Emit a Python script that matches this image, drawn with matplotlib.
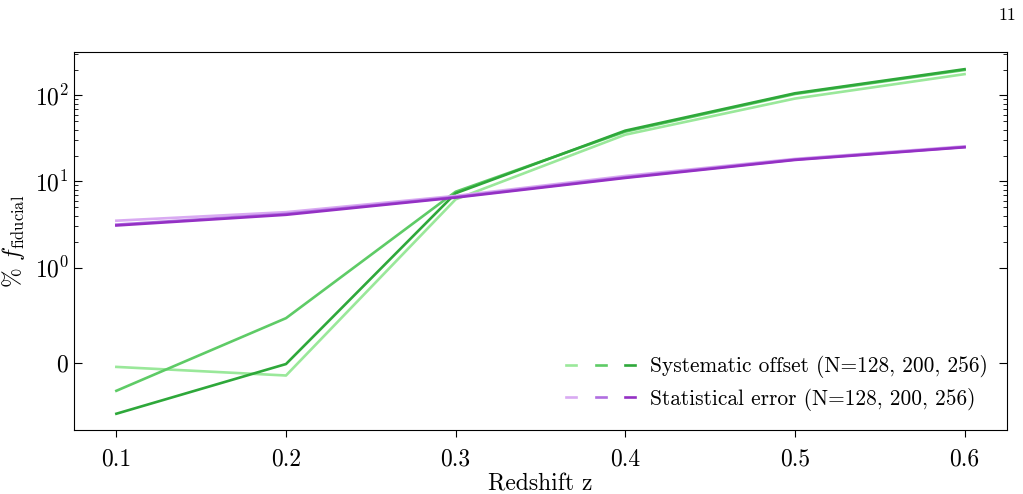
import numpy as np
import matplotlib
matplotlib.use("Agg")
import matplotlib.pyplot as plt
from matplotlib.lines import Line2D
from matplotlib.legend_handler import HandlerTuple

plt.rcParams['font.family'] = 'serif'
plt.rcParams['font.serif'] = ['cmr10', 'DejaVu Serif']
plt.rcParams['mathtext.fontset'] = 'cm'
plt.rcParams['axes.formatter.use_mathtext'] = True
plt.rcParams['axes.unicode_minus'] = False

redshift = [0.1, 0.2, 0.3, 0.4, 0.5, 0.6]
n_values = [128, 200, 256]

# Systematic offset (% of fiducial) for N=128, 200, 256
sys_offset = {
    128: [-0.04, -0.13, 6.2, 35.0, 92.0, 177.0],
    200: [-0.29, 0.47, 7.6, 38.0, 104.0, 198.0],
    256: [-0.53, -0.01, 7.3, 39.0, 106.0, 202.0],
}
# Statistical error (% of fiducial) for N=128, 200, 256
stat_err = {
    128: [3.5, 4.4, 6.8, 11.6, 18.3, 25.6],
    200: [3.15, 4.2, 6.6, 11.2, 18.0, 25.2],
    256: [3.08, 4.1, 6.5, 11.0, 17.8, 25.0],
}

green_colors = ['#9ae89a', '#5ecb66', '#2ea83a']
purple_colors = ['#d9aaf2', '#b06ee0', '#9430c4']

fig = plt.figure(figsize=(10.23, 4.94), dpi=100)
ax = fig.add_axes([0.0723, 0.1296, 0.9120, 0.7651])

lw = 1.9
for n, c in zip(n_values, green_colors):
    ax.plot(redshift, sys_offset[n], color=c, lw=lw)
for n, c in zip(n_values, purple_colors):
    ax.plot(redshift, stat_err[n], color=c, lw=lw)

ax.set_yscale('symlog', linthresh=1, subs=list(range(2, 10)))
ax.set_ylim(-0.7, 320)
ax.set_yticks([0, 1, 10, 100])

ax.tick_params(axis='y', which='both', direction='in', right=True, left=True, labelsize=17)
ax.tick_params(axis='y', which='major', length=6)
ax.tick_params(axis='y', which='minor', length=3)
ax.tick_params(axis='x', which='both', direction='out', length=5, labelsize=17, pad=8)
ax.set_xticks(redshift)
ax.set_xticklabels(['0.1', '0.2', '0.3', '0.4', '0.5', '0.6'])

ax.set_xlabel('Redshift z', fontsize=17, labelpad=2)
ax.set_ylabel(r'% $f_{\rm fiducial}$', fontsize=17, labelpad=6)

g_handles = tuple(Line2D([], [], color=c, lw=lw) for c in green_colors)
p_handles = tuple(Line2D([], [], color=c, lw=lw) for c in purple_colors)
ax.legend([g_handles, p_handles],
          ['Systematic offset (N=128, 200, 256)', 'Statistical error (N=128, 200, 256)'],
          handler_map={tuple: HandlerTuple(ndivide=None, pad=0.9)},
          loc='lower right', frameon=False, fontsize=15.4, handlelength=3.2,
          handletextpad=0.7, labelspacing=0.45, borderaxespad=0.5)

fig.text(0.993, 0.985, '11', ha='right', va='top', fontsize=13)

fig.savefig('out.png', dpi=100)
